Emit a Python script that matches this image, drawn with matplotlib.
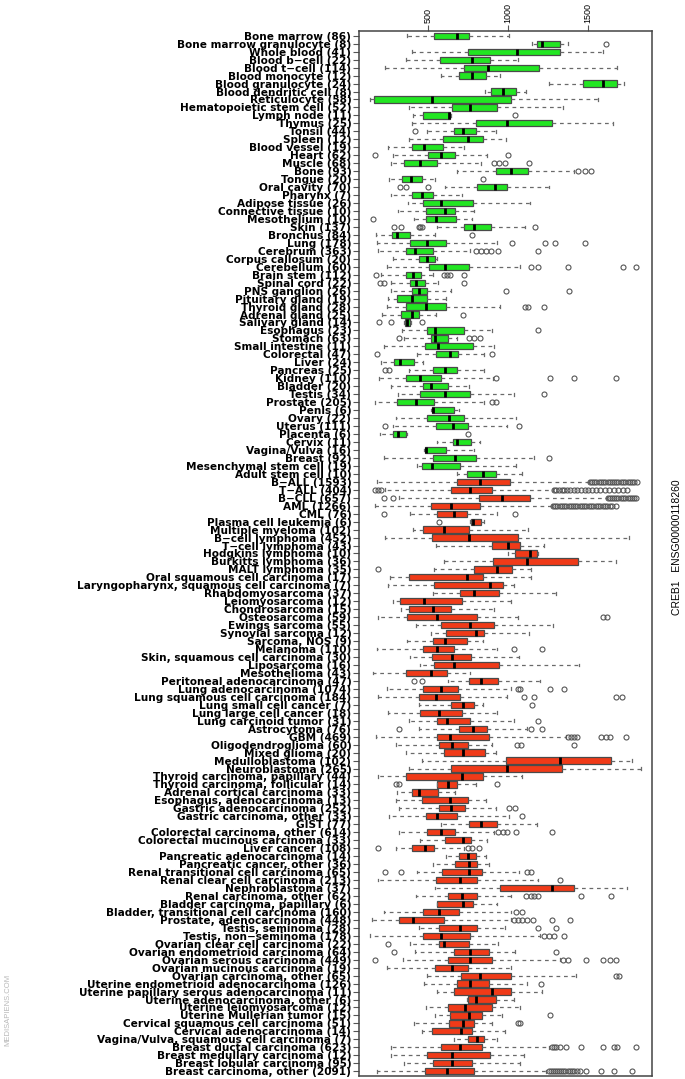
import matplotlib
matplotlib.use('Agg')
import matplotlib.pyplot as plt

# CREB1 expression per tissue / cancer type (box stats)
names = [
    'Bone marrow (86)', 'Bone marrow granulocyte (8)', 'Whole blood (41)',
    'Blood b\u2212cell (22)', 'Blood t\u2212cell (114)', 'Blood monocyte (12)',
    'Blood granulocyte (24)', 'Blood dendritic cell (8)', 'Reticulocyte (58)',
    'Hematopoietic stem cell (52)', 'Lymph node (11)', 'Thymus (25)',
    'Tonsil (44)', 'Spleen (12)', 'Blood vessel (19)', 'Heart (62)',
    'Muscle (68)', 'Bone (93)', 'Tongue (20)', 'Oral cavity (70)',
    'Pharynx (7)', 'Adipose tissue (26)', 'Connective tissue (10)',
    'Mesothelium (10)', 'Skin (137)', 'Bronchus (84)', 'Lung (178)',
    'Cerebrum (363)', 'Corpus callosum (20)', 'Cerebellum (60)',
    'Brain stem (112)', 'Spinal cord (22)', 'PNS ganglion (26)',
    'Pituitary gland (19)', 'Thyroid gland (28)', 'Adrenal gland (25)',
    'Salivary gland (14)', 'Esophagus (23)', 'Stomach (63)',
    'Small intestine (11)', 'Colorectal (47)', 'Liver (24)', 'Pancreas (25)',
    'Kidney (110)', 'Bladder (20)', 'Testis (34)', 'Prostate (205)',
    'Penis (6)', 'Ovary (22)', 'Uterus (111)', 'Placenta (6)', 'Cervix (11)',
    'Vagina/Vulva (16)', 'Breast (92)', 'Mesenchymal stem cell (19)',
    'Adult stem cell (10)',
    'B\u2212ALL (1593)', 'T\u2212ALL (404)', 'B\u2212CLL (657)', 'AML (1266)',
    'CML (76)', 'Plasma cell leukemia (6)', 'Multiple myeloma (102)',
    'B\u2212cell lymphoma (452)', 'T\u2212cell lymphoma (43)',
    'Hodgkins lymphoma (10)', 'Burkitts lymphoma (36)', 'MALT lymphoma (35)',
    'Oral squamous cell carcinoma (17)',
    'Laryngopharynx, squamous cell carcinoma (7)', 'Rhabdomyosarcoma (37)',
    'Leiomyosarcoma (12)', 'Chondrosarcoma (15)', 'Osteosarcoma (59)',
    'Ewings sarcoma (55)', 'Synovial sarcoma (12)', 'Sarcoma, NOS (9)',
    'Melanoma (110)', 'Skin, squamous cell carcinoma (30)',
    'Liposarcoma (16)', 'Mesothelioma (43)', 'Peritoneal adenocarcinoma (47)',
    'Lung adenocarcinoma (1074)', 'Lung squamous cell carcinoma (184)',
    'Lung small cell cancer (7)', 'Lung large cell cancer (18)',
    'Lung carcinoid tumor (31)', 'Astrocytoma (76)', 'GBM (469)',
    'Oligodendroglioma (60)', 'Mixed glioma (20)', 'Medulloblastoma (102)',
    'Neuroblastoma (265)', 'Thyroid carcinoma, papillary (44)',
    'Thyroid carcinoma, follicular (14)', 'Adrenal cortical carcinoma (33)',
    'Esophagus, adenocarcinoma (13)', 'Gastric adenocarcinoma (252)',
    'Gastric carcinoma, other (33)', 'GIST (77)',
    'Colorectal carcinoma, other (614)', 'Colorectal mucinous carcinoma (33)',
    'Liver cancer (108)', 'Pancreatic adenocarcinoma (14)',
    'Pancreatic cancer, other (36)', 'Renal transitional cell carcinoma (65)',
    'Renal clear cell carcinoma (213)', 'Nephroblastoma (37)',
    'Renal carcinoma, other (62)', 'Bladder carcinoma, papillary (6)',
    'Bladder, transitional cell carcinoma (160)',
    'Prostate, adenocarcinoma (448)', 'Testis, seminoma (28)',
    'Testis, non\u2212seminoma (178)', 'Ovarian clear cell carcinoma (22)',
    'Ovarian endometrioid carcinoma (64)', 'Ovarian serous carcinoma (449)',
    'Ovarian mucinous carcinoma (19)', 'Ovarian carcinoma, other (65)',
    'Uterine endometrioid adenocarcinoma (126)',
    'Uterine papillary serous adenocarcinoma (11)',
    'Uterine adenocarcinoma, other (6)', 'Uterine leiomyosarcoma (12)',
    'Uterine Mullerian tumor (15)', 'Cervical squamous cell carcinoma (51)',
    'Cervical adenocarcinoma (14)',
    'Vagina/Vulva, squamous cell carcinoma (7)',
    'Breast ductal carcinoma (623)', 'Breast medullary carcinoma (12)',
    'Breast lobular carcinoma (95)', 'Breast carcinoma, other (2091)',
]
n_normal = 56  # first 56 rows are healthy tissues (green), the rest cancers (red)

whislo = [368, 1152, 401, 358, 231, 577, 1254, 856, 138, 379, 407, 396,
          495, 379, 248, 281, 267, 681, 253, 604, 267, 374, 308, 412, 555,
          171, 177, 185, 281, 240, 204, 267, 267, 248, 240, 212, 349, 336,
          349, 221, 431, 204, 379, 193, 267, 308, 166, 514, 295, 281, 199,
          555, 473, 226, 431, 678,
          177, 231, 314, 166, 385, 760, 404, 231, 549, 999, 596, 533, 259,
          248, 527, 281, 330, 185, 423, 514, 368, 177, 385, 451, 157, 623,
          240, 185, 440, 248, 377, 440, 171, 295, 363, 459, 377, 185, 555,
          303, 295, 314, 253, 582, 314, 451, 295, 610, 527, 431, 185, 541,
          423, 555, 226, 149, 445, 138, 385, 418, 341, 240, 495, 473, 555,
          741, 486, 541, 412, 459, 664, 267, 267, 349, 177]
q1 = [533, 1180, 747, 571, 725, 692, 1467, 895, 160, 648, 467, 796,
      664, 593, 396, 500, 349, 925, 336, 807, 396, 467, 486, 486, 725,
      275, 385, 358, 440, 505, 358, 385, 399, 303, 363, 330, 352, 489,
      516, 478, 549, 286, 527, 363, 467, 451, 303, 522, 495, 549, 281,
      653, 478, 527, 459, 741,
      681, 642, 818, 516, 555, 768, 467, 522, 900, 1042, 906, 788, 379,
      533, 697, 325, 379, 368, 577, 610, 527, 467, 522, 533, 358, 752,
      467, 445, 642, 451, 555, 692, 555, 569, 596, 988, 642, 358, 555,
      396, 459, 569, 486, 752, 495, 604, 396, 692, 670, 588, 549, 952,
      623, 555, 467, 314, 569, 467, 569, 659, 623, 541, 705, 678, 659,
      747, 621, 637, 632, 522, 747, 577, 495, 527, 478]
med = [678, 1212, 1056, 774, 875, 774, 1596, 966, 522, 760, 632, 993,
       719, 747, 473, 577, 451, 1015, 390, 916, 459, 577, 604, 549, 788,
       303, 495, 418, 495, 604, 404, 423, 445, 396, 486, 401, 368, 544,
       541, 560, 637, 325, 604, 451, 514, 604, 423, 527, 632, 653, 308,
       681, 486, 670, 522, 840,
       823, 760, 960, 642, 664, 779, 596, 752, 999, 1138, 1117, 933, 741,
       884, 788, 473, 527, 555, 763, 801, 604, 555, 651, 664, 514, 829,
       577, 549, 719, 569, 615, 779, 637, 651, 719, 1327, 993, 714, 623,
       445, 637, 642, 555, 829, 582, 719, 478, 747, 752, 752, 697, 1273,
       714, 719, 569, 404, 697, 577, 596, 760, 760, 651, 823, 760, 897,
       796, 733, 752, 719, 705, 807, 697, 651, 651, 615]
q3 = [752, 1327, 1322, 889, 1193, 862, 1684, 1048, 1021, 930, 637, 1273,
      796, 845, 593, 670, 555, 1125, 462, 993, 527, 779, 670, 675, 895,
      385, 610, 527, 541, 758, 453, 478, 495, 495, 610, 445, 385, 725,
      621, 779, 686, 412, 678, 577, 623, 763, 533, 664, 725, 747, 363,
      768, 610, 796, 697, 925,
      1012, 897, 1136, 823, 741, 829, 752, 1062, 1075, 1180, 1437, 1026,
      845, 966, 944, 714, 642, 807, 911, 851, 741, 664, 768, 944, 615,
      938, 686, 697, 788, 714, 760, 870, 878, 747, 856, 1645, 1336, 843,
      678, 560, 747, 733, 678, 933, 670, 768, 533, 796, 807, 834, 807,
      1410, 807, 779, 692, 596, 807, 760, 752, 878, 897, 747, 1015, 878,
      1015, 925, 897, 834, 788, 774, 851, 834, 889, 774, 788]
whishi = [1007, 1377, 1591, 1062, 1684, 952, 1728, 1111, 1560, 1341, 642,
          1656, 925, 988, 725, 870, 829, 1410, 544, 1256, 714, 1136, 785,
          774, 1103, 544, 933, 760, 555, 1075, 527, 560, 642, 610, 952,
          549, 390, 897, 678, 911, 851, 467, 851, 906, 752, 1034, 851, 692,
          1048, 993, 368, 823, 788, 1163, 1048, 1089,
          1508, 1281, 1618, 1273, 933, 851, 1125, 1755, 1226, 1185, 1678,
          1144, 1144, 1034, 1300, 1021, 911, 1062, 1281, 1130, 843, 933,
          1070, 1445, 760, 1199, 1021, 993, 843, 933, 1034, 1117, 1363,
          897, 925, 1774, 1829, 1089, 796, 670, 862, 925, 1007, 1180, 911,
          870, 725, 862, 878, 1070, 1190, 1747, 1021, 933, 1015, 1015, 980,
          1199, 938, 1042, 1327, 1015, 1426, 1117, 1212, 1034, 1075, 960,
          897, 980, 933, 1254, 1097, 1075, 1240]
fliers = [
    [], [1610], [], [], [], [], [], [], [], [], [1042], [],
    [418], [], [], [166, 999], [911, 944, 980, 1130], [1437, 1481, 1519],
    [843], [322, 363, 500], [], [], [], [157],
    [286, 330, 440, 451, 462, 1171], [774], [1026, 1229, 1295, 1481],
    [801, 830, 860, 890, 934, 1190], [], [1144, 1190, 1377, 1719, 1802],
    [171, 596, 615, 637, 725], [199, 226, 725], [988, 1382], [],
    [1103, 1125, 1226], [719], [193, 267, 459], [1185], [314, 752, 788, 823],
    [], [177, 897], [], [231, 253], [925, 1262, 1410, 1673], [], [1226],
    [897, 925], [], [], [231, 1070], [747], [], [], [1254], [], [],
    # cancers
    [1512, 1524, 1539, 1551, 1566, 1580, 1593, 1607, 1622, 1636, 1649,
     1663, 1678, 1690, 1706, 1719, 1733, 1748, 1761, 1776, 1790, 1808],
    [166, 185, 204, 1289, 1300, 1318, 1335, 1352, 1371, 1390, 1412, 1433,
     1455, 1478, 1502, 1525, 1551, 1578, 1604, 1633, 1660, 1690, 1718, 1747],
    [226, 281, 1623, 1636, 1650, 1663, 1677, 1690, 1705, 1718, 1733, 1748,
     1762, 1776, 1790, 1802],
    [1281, 1295, 1308, 1322, 1336, 1350, 1363, 1378, 1392, 1405, 1420, 1433,
     1447, 1461, 1476, 1490, 1505, 1519, 1533, 1548, 1562, 1577, 1592, 1606,
     1620, 1636, 1651, 1673],
    [221, 1042], [569], [], [], [], [], [], [185], [], [], [], [], [],
    [1591, 1618], [], [], [], [1037, 1212], [], [], [], [412, 459],
    [1062, 1075, 1262, 1349], [1097, 1163, 1678, 1711], [1152], [], [1185],
    [314, 1144, 1212], [1377, 1394, 1410, 1430, 1582, 1610, 1640, 1739],
    [1053, 1081, 1410], [], [], [], [], [295, 314, 933], [], [],
    [1007, 1042], [1089], [], [938, 966, 993, 1048, 1273], [],
    [185, 747, 774, 815], [], [], [231, 330, 1117, 1144], [1322], [],
    [1111, 1140, 1163, 1190, 1454, 1645], [], [1048, 1089],
    [1034, 1062, 1089, 1117, 1158, 1273, 1390], [1185, 1300],
    [1226, 1254, 1289, 1349], [248], [286, 1300],
    [166, 1344, 1377, 1486, 1596, 1637, 1678], [], [1678, 1692], [1207],
    [], [], [], [1262], [1062, 1075], [], [],
    [1273, 1288, 1300, 1322, 1363, 1459, 1596, 1664, 1684, 1802], [], [],
    [1254, 1266, 1279, 1291, 1304, 1318, 1331, 1345, 1358, 1372, 1386, 1400,
     1415, 1432, 1452, 1486, 1582, 1664, 1774],
]

stats = []
for i in range(len(names)):
    stats.append(dict(label=names[i], whislo=whislo[i], q1=q1[i], med=med[i],
                      q3=q3[i], whishi=whishi[i], fliers=fliers[i]))

fig = plt.figure(figsize=(6.85, 10.79), dpi=100)
ax = fig.add_axes([0.524, 0.0028, 0.4277, 0.9685])

pos = list(range(1, len(names) + 1))
bp = ax.bxp(stats, positions=pos, orientation='horizontal', widths=0.78,
            patch_artist=True, manage_ticks=False,
            boxprops=dict(edgecolor='#4a4a4a', linewidth=0.9),
            medianprops=dict(color='black', linewidth=2.0),
            whiskerprops=dict(color='#6a6a6a', linewidth=0.9,
                              linestyle=(0, (3, 3))),
            capprops=dict(color='#6a6a6a', linewidth=0.9),
            capwidths=0.35,
            flierprops=dict(marker='o', markersize=3.6, markerfacecolor='none',
                            markeredgecolor='#555555', markeredgewidth=0.8))

for i, box in enumerate(bp['boxes']):
    box.set_facecolor('#22e622' if i < n_normal else '#f03a18')

ax.set_xlim(66, 1900)
ax.set_ylim(len(names) + 0.6, 0.4)

ax.set_yticks(pos)
ax.set_yticklabels(names, fontsize=7.6, fontweight='bold', family='DejaVu Sans')
ax.tick_params(axis='y', length=4, width=0.8, color='#555555', pad=1.5)

ax.xaxis.tick_top()
ax.set_xticks([500, 1000, 1500])
ax.set_xticklabels(['500', '1000', '1500'], rotation=90, fontsize=6.5,
                   family='Liberation Sans')
ax.tick_params(axis='x', length=4, width=0.8, color='#555555', pad=1.5)

for s in ax.spines.values():
    s.set_color('#444444')
    s.set_linewidth(1.1)

fig.text(0.988, 0.493, 'CREB1   ENSG00000118260', rotation=90, ha='center',
         va='center', fontsize=7.5, family='Liberation Sans')
fig.text(0.011, 0.064, 'MEDISAPIENS.COM', rotation=90, ha='center',
         va='center', fontsize=5.5, color='#b8b8b8', family='Liberation Sans')

fig.savefig('out.png', dpi=100)
